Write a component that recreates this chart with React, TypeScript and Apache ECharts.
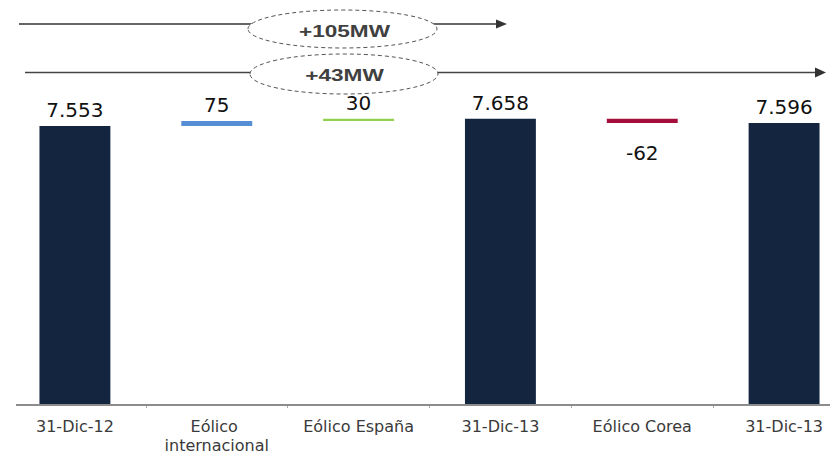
import React, { useEffect, useRef } from "react";
import * as echarts from "echarts";

// Installed wind capacity bridge (MW)
const categories = [
  "31-Dic-12",
  "Eólico internacional",
  "Eólico España",
  "31-Dic-13",
  "Eólico Corea",
  "31-Dic-13",
];
const values = [7553, 75, 30, 7658, -62, 7596];
const isTotal = [true, false, false, true, false, true];
const barColors = ["#13253f", "#558ed5", "#92d050", "#13253f", "#a50e3a", "#13253f"];

const fmt = (v: number) => {
  const s = Math.abs(v).toString().replace(/\B(?=(\d{3})+(?!\d))/g, ".");
  return (v < 0 ? "-" : "") + s;
};

export default function App() {
  const ref = useRef<HTMLDivElement>(null);

  useEffect(() => {
    document.body.style.margin = "0";
    document.body.style.overflow = "hidden";
    const chart = echarts.init(ref.current!, null, { renderer: "svg" });

    // waterfall: invisible base + visible segment
    const base: number[] = [];
    const seg: number[] = [];
    let running = 0;
    values.forEach((v, i) => {
      if (isTotal[i]) {
        base.push(0);
        seg.push(v);
        running = v;
      } else {
        base.push(v >= 0 ? running : running + v);
        seg.push(Math.abs(v));
        running += v;
      }
    });

    const totals = values.filter((_, i) => isTotal[i]);
    const diffA = totals[1] - totals[0];
    const diffB = totals[2] - totals[0];

    const font = "'DejaVu Sans', Verdana, sans-serif";
    const annFont = "'Liberation Sans', Arial, sans-serif";

    chart.setOption({
      animation: false,
      // the last category runs past the visible right edge
      grid: { left: 4, top: 29, width: 851, bottom: 50 },
      xAxis: {
        type: "category",
        data: categories,
        axisLine: { show: false },
        axisTick: {
          show: true,
          length: 4,
          interval: (i: number) => i > 0,
          lineStyle: { color: "#a6a6a6", width: 1 },
        },
        axisLabel: {
          interval: 0,
          margin: 13,
          color: "#3a3a3a",
          fontFamily: font,
          fontSize: 16,
          lineHeight: 19,
          width: 140,
          overflow: "break",
        },
      },
      yAxis: {
        type: "value",
        min: 3400,
        max: 9000,
        show: false,
        splitLine: { show: false },
      },
      series: [
        {
          type: "bar",
          stack: "w",
          data: base,
          barWidth: "50%",
          itemStyle: { color: "transparent" },
          emphasis: { disabled: true },
          silent: true,
        },
        {
          type: "bar",
          stack: "w",
          barWidth: "50%",
          data: seg.map((s, i) => ({
            value: s,
            itemStyle: { color: barColors[i] },
            label: {
              show: true,
              position: values[i] < 0 ? "bottom" : "top",
              distance: values[i] < 0 ? 20 : 6,
              formatter: () => fmt(values[i]),
              color: "#111",
              fontFamily: font,
              fontSize: 20,
            },
          })),
        },
      ],
      graphic: [
        // cumulative change arrows
        { type: "line", shape: { x1: 19, y1: 24, x2: 497, y2: 24 }, style: { stroke: "#333", lineWidth: 1.5 }, z: 10 },
        { type: "polygon", shape: { points: [[496, 19.5], [507, 24], [496, 28.5]] }, style: { fill: "#333" }, z: 10 },
        { type: "line", shape: { x1: 25, y1: 72.5, x2: 816, y2: 72.5 }, style: { stroke: "#444", lineWidth: 1.6 }, z: 10 },
        { type: "polygon", shape: { points: [[815, 67.5], [826, 72.5], [815, 77.5]] }, style: { fill: "#333" }, z: 10 },
        {
          type: "ellipse",
          shape: { cx: 342.5, cy: 29, rx: 94.5, ry: 19 },
          style: { fill: "#fff", stroke: "#555", lineWidth: 1, lineDash: [4, 3] },
          z: 11,
        },
        {
          type: "ellipse",
          shape: { cx: 344, cy: 74, rx: 94, ry: 20 },
          style: { fill: "#fff", stroke: "#555", lineWidth: 1, lineDash: [4, 3] },
          z: 11,
        },
        {
          type: "text",
          x: 344.5,
          y: 31,
          scaleX: 1.33,
          style: {
            text: `+${diffA}MW`,
            fill: "#404040",
            font: `bold 17px ${annFont}`,
            textAlign: "center",
            textVerticalAlign: "middle",
          },
          z: 12,
        },
        {
          type: "text",
          x: 344.5,
          y: 75,
          scaleX: 1.33,
          style: {
            text: `+${diffB}MW`,
            fill: "#404040",
            font: `bold 17px ${annFont}`,
            textAlign: "center",
            textVerticalAlign: "middle",
          },
          z: 12,
        },
        // category axis baseline
        { type: "line", shape: { x1: 16, y1: 405, x2: 830, y2: 405 }, style: { stroke: "#8c8c8c", lineWidth: 1.8 }, z: 10 },
      ],
    });

    return () => chart.dispose();
  }, []);

  return <div ref={ref} style={{ width: 860, height: 455 }} />;
}
